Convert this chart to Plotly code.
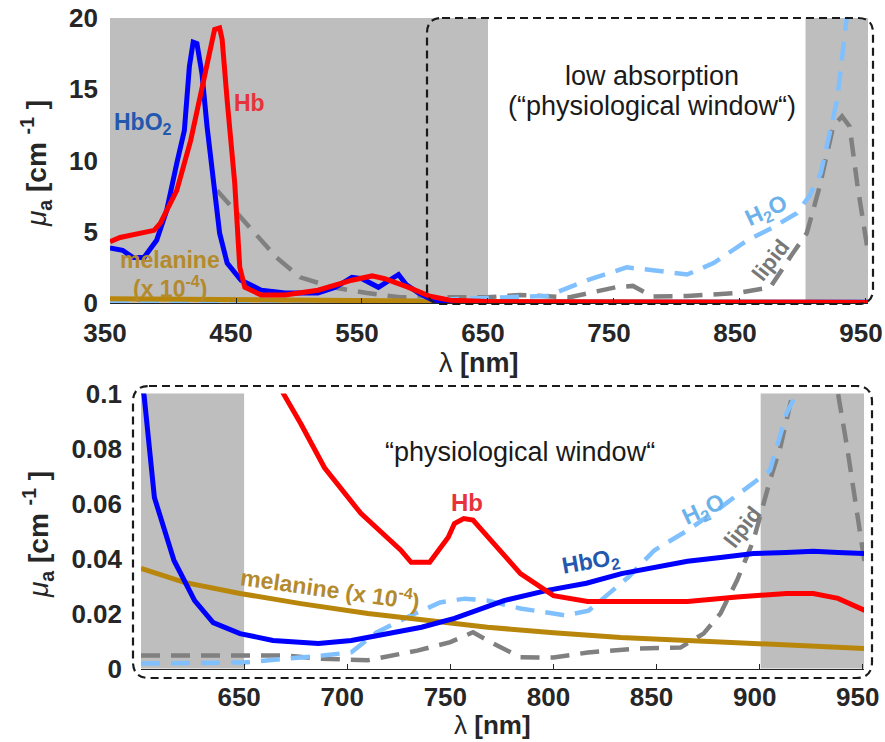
import plotly.graph_objects as go

# ---------------- top panel data (350-950 nm) ----------------
wl_hbo2_top = [350, 360, 368, 377, 387, 395, 403, 409, 413, 416, 419, 423, 427, 433, 437, 443, 454, 470,
               489, 515, 529, 542, 550, 563, 571, 579, 585, 595, 606, 620, 650, 700, 750, 800, 850, 900, 955]
hbo2_top = [3.86, 3.7, 3.2, 3.2, 4.4, 6.5, 9.8, 12.1, 16.6, 18.3, 18.2, 16.1, 12.4, 8.1, 4.9, 2.8, 1.6, 0.9,
            0.7, 0.7, 1.1, 1.8, 1.7, 1.1, 1.6, 2.0, 1.3, 0.7, 0.2, 0.1, 0.05, 0.03, 0.03, 0.04, 0.05, 0.05, 0.05]

wl_hb_top = [350, 358, 385, 390, 403, 414, 425, 433, 437, 439, 443, 449, 453, 457, 470, 489, 515, 542,
             558, 568, 587, 603, 611, 620, 650, 700, 750, 800, 850, 900, 955]
hb_top = [4.3, 4.6, 5.1, 5.6, 7.9, 11.4, 15.9, 19.2, 19.3, 18.5, 14.2, 8.4, 2.5, 1.1, 0.56, 0.56, 0.9, 1.6,
          1.9, 1.7, 1.1, 0.5, 0.35, 0.2, 0.1, 0.07, 0.07, 0.05, 0.05, 0.05, 0.04]

wl_lipid_top = [435, 463, 482, 501, 527, 554, 580, 598, 625, 649, 675, 715, 751, 765, 781, 808, 848, 874,
                892, 903, 913, 924, 931, 937, 943, 951]
lipid_top = [7.9, 5.1, 3.2, 1.8, 1.1, 0.7, 0.4, 0.4, 0.4, 0.4, 0.56, 0.4, 1.1, 1.2, 0.45, 0.5, 0.7, 1.1,
             3.5, 4.9, 8.1, 12.4, 13.1, 12.4, 8.4, 3.9]

wl_h2o_top = [350, 400, 450, 500, 550, 600, 650, 662, 697, 729, 760, 781, 808, 829, 856, 876, 895, 905,
              914, 927, 932, 935, 940]
h2o_top = [0.02, 0.02, 0.03, 0.03, 0.04, 0.2, 0.35, 0.4, 0.5, 1.6, 2.5, 2.3, 2.0, 2.8, 4.4, 5.3, 6.3, 7.5,
           9.1, 14.2, 17.8, 20.5, 24.0]

wl_mel_top = [350, 450, 550, 650, 750, 850, 955]
mel_top = [0.3, 0.22, 0.15, 0.1, 0.07, 0.05, 0.04]

# ---------------- bottom panel data (600-950 nm) ----------------
wl_hbo2_bot = [600, 601.5, 606.5, 611, 616, 621, 626, 635, 648, 664, 686, 702, 726, 736, 752, 776, 797,
               816, 833, 849, 865, 881, 897, 913, 926, 938, 951]
hbo2_bot = [0.104, 0.0993, 0.0622, 0.0513, 0.0393, 0.032, 0.0247, 0.0167, 0.0127, 0.0102, 0.0091, 0.0102,
            0.0138, 0.015, 0.0182, 0.0247, 0.0284, 0.031, 0.0345, 0.0367, 0.039, 0.0404, 0.0418, 0.0422,
            0.0426, 0.0422, 0.0418]

wl_hb_bot = [655, 669, 677.5, 689, 706.6, 726, 731, 740, 749, 752, 756.5, 761, 771, 784, 800, 816.6, 849,
             865, 889, 913, 926, 938, 951]
hb_bot = [0.125, 0.1, 0.089, 0.073, 0.0564, 0.043, 0.0386, 0.0386, 0.0477, 0.0527, 0.0545, 0.054, 0.0455,
          0.0345, 0.0265, 0.0244, 0.0244, 0.0244, 0.026, 0.0273, 0.0273, 0.0255, 0.0211]

wl_h2o_bot = [600, 650, 688, 702, 714, 730, 745, 757, 768, 784, 800, 806, 817, 836, 849, 865, 881, 897,
              905, 913, 918, 930, 951]
h2o_bot = [0.0018, 0.0022, 0.0047, 0.0059, 0.013, 0.019, 0.024, 0.0254, 0.0247, 0.0218, 0.02, 0.0193,
           0.021, 0.033, 0.043, 0.0502, 0.0585, 0.0673, 0.072, 0.0927, 0.1, 0.13, 0.2]

wl_lipid_bot = [600, 671, 686, 710, 734, 750, 761, 771, 784, 800, 816.6, 841, 861.6, 872.8, 881, 889, 897,
                905, 910, 916, 930, 938, 942.5, 947, 951]
lipid_bot = [0.0047, 0.0047, 0.0036, 0.003, 0.0065, 0.0096, 0.0132, 0.009, 0.0041, 0.004, 0.0058, 0.0073,
             0.0076, 0.0127, 0.02, 0.032, 0.0466, 0.0684, 0.0804, 0.1, 0.16, 0.1, 0.08, 0.0564, 0.038]

wl_mel_bot = [600, 621, 648, 677.5, 710, 750, 768, 800, 832.6, 865, 897, 929, 951]
mel_bot = [0.0364, 0.0313, 0.0273, 0.0236, 0.02, 0.0167, 0.015, 0.013, 0.0113, 0.0102, 0.0091, 0.0076, 0.0073]

top_xticks = [350, 450, 550, 650, 750, 850, 950]
top_yticks = [0, 5, 10, 15, 20]
bot_xticks = [650, 700, 750, 800, 850, 900, 950]
bot_yticks = [0, 0.02, 0.04, 0.06, 0.08, 0.1]
bot_yticklabels = ["0", "0.02", "0.04", "0.06", "0.08", "0.1"]

# ---------------- styling ----------------
W, H = 885, 742
FONT = "Liberation Sans, Arial, Helvetica, sans-serif"
C_HBO2, C_HB, C_MEL, C_H2O, C_LIP = "#0000ff", "#ff0000", "#b8860b", "#80c0ff", "#808080"
T_HBO2, T_HB, T_MEL, T_H2O, T_LIP = "#2358ae", "#e8323a", "#b38a2e", "#6cb2ea", "#777777"
GRAY = "#bebebe"
TXT = "#262626"


def px_x(p):
    return p / W


def px_y(p):
    return 1 - p / H


fig = go.Figure()


def add(x, y, color, xa, ya, dash=None, width=5):
    line = dict(color=color, width=width)
    if dash:
        line["dash"] = dash
    fig.add_trace(go.Scatter(x=x, y=y, mode="lines", line=line, xaxis=xa, yaxis=ya,
                             hoverinfo="skip", showlegend=False))


DASH = "19px,11px"
for xa, ya, d in [("x", "y", dict(lip=(wl_lipid_top, lipid_top), h2o=(wl_h2o_top, h2o_top),
                                   mel=(wl_mel_top, mel_top), hbo2=(wl_hbo2_top, hbo2_top),
                                   hb=(wl_hb_top, hb_top))),
                  ("x2", "y2", dict(lip=(wl_lipid_bot, lipid_bot), h2o=(wl_h2o_bot, h2o_bot),
                                    mel=(wl_mel_bot, mel_bot), hbo2=(wl_hbo2_bot, hbo2_bot),
                                    hb=(wl_hb_bot, hb_bot)))]:
    add(*d["lip"], C_LIP, xa, ya, dash=DASH, width=4.5)
    add(*d["h2o"], C_H2O, xa, ya, dash=DASH, width=4.5)
    add(*d["mel"], C_MEL, xa, ya)
    add(*d["hbo2"], C_HBO2, xa, ya)
    add(*d["hb"], C_HB, xa, ya)

tickfont = dict(family=FONT, size=26, color=TXT, weight="bold")
common_x = dict(showgrid=False, zeroline=False, ticks="inside", ticklen=5, tickwidth=1, tickcolor=TXT,
                showline=True, linecolor=TXT, linewidth=1, tickfont=tickfont, automargin=False,
                ticklabelshift=-5, mirror=False)
common_y = dict(showgrid=False, zeroline=False, ticks="", showline=False, tickfont=tickfont,
                automargin=False)

fig.update_layout(
    width=W, height=H, margin=dict(l=0, r=0, t=0, b=0),
    paper_bgcolor="white", plot_bgcolor="white",
    xaxis=dict(domain=[px_x(110), px_x(868)], range=[350, 951.6], anchor="y",
               tickvals=top_xticks, ticklabelstandoff=7, **common_x),
    yaxis=dict(domain=[px_y(303), px_y(18)], range=[0, 20], anchor="x",
               tickvals=top_yticks, ticklabelstandoff=11, **common_y),
    xaxis2=dict(domain=[px_x(141), px_x(864)], range=[600, 950.6], anchor="y2",
                tickvals=bot_xticks, ticklabelstandoff=5, **common_x),
    yaxis2=dict(domain=[px_y(668.5), px_y(393.5)], range=[0, 0.1], anchor="x2",
                tickvals=bot_yticks, ticktext=bot_yticklabels, ticklabelstandoff=18, **common_y),
)

shapes = []
# gray absorption regions
for xr, yr, x0, x1 in [("x", "y domain", 350, 650), ("x", "y domain", 902, 951.6),
                        ("x2", "y2 domain", 600, 650), ("x2", "y2 domain", 900.5, 950.6)]:
    shapes.append(dict(type="rect", xref=xr, yref=yr, x0=x0, x1=x1, y0=0, y1=1,
                       fillcolor=GRAY, line=dict(width=0), layer="below"))


def rounded(x0, y0, x1, y1, r):
    pts = lambda x, y: f"{px_x(x):.5f},{px_y(y):.5f}"
    return (f"M {pts(x0 + r, y0)} L {pts(x1 - r, y0)} Q {pts(x1, y0)} {pts(x1, y0 + r)} "
            f"L {pts(x1, y1 - r)} Q {pts(x1, y1)} {pts(x1 - r, y1)} "
            f"L {pts(x0 + r, y1)} Q {pts(x0, y1)} {pts(x0, y1 - r)} "
            f"L {pts(x0, y0 + r)} Q {pts(x0, y0)} {pts(x0 + r, y0)} Z")


for box in [(427, 18, 873, 304, 15), (133, 386, 872, 678, 16)]:
    shapes.append(dict(type="path", xref="paper", yref="paper", path=rounded(*box),
                       line=dict(color="#1a1a1a", width=2.2, dash="8px,5px"), layer="above"))
fig.update_layout(shapes=shapes)

ann = []


def label(text, x, y, xr, yr, color, size=23, angle=0):
    ann.append(dict(text=text, x=x, y=y, xref=xr, yref=yr, showarrow=False, textangle=angle,
                    font=dict(family=FONT, size=size, color=color), xanchor="center", yanchor="middle"))


NB = "\u00a0"
# top panel labels
label("<b>HbO<sub>2</sub></b>", 376, 12.6, "x", "y", T_HBO2)
label("<b>Hb</b>", 461, 14.0, "x", "y", T_HB)
label("<b>melanine</b>", 397.6, 3.0, "x", "y", T_MEL, size=23)
label("<b>(x 10<sup>-4</sup>)</b>", 397.6, 1.1, "x", "y", T_MEL, size=23)
label("low absorption", 780, 15.9, "x", "y", "#1a1a1a", size=27)
label("(“physiological window“)", 780, 13.8, "x", "y", "#1a1a1a", size=27)
label("<b>H<sub>2</sub>O</b>", 871, 6.4, "x", "y", T_H2O, size=23, angle=-25)
label("<b>lipid</b>", 874, 3.0, "x", "y", T_LIP, size=22, angle=-52)

# bottom panel labels
label("“physiological window“", 784, 0.0789, "x2", "y2", "#1a1a1a", size=27)
label("<b>Hb</b>", 758, 0.0604, "x2", "y2", T_HB, size=24)
label("<b>HbO<sub>2</sub></b>", 818, 0.0385, "x2", "y2", T_HBO2, angle=-10)
label("<b>H<sub>2</sub>O</b>", 872.6, 0.0575, "x2", "y2", T_H2O, size=23, angle=-25)
label("<b>lipid</b>", 891.5, 0.0514, "x2", "y2", T_LIP, size=22, angle=-52)
label("<b>melanine (x 10<sup>-4</sup>)</b>", 691.7, 0.0292, "x2", "y2", T_MEL, size=23, angle=8)

# axis titles
ytitle = f"<i>μ</i><sub><b>a</b></sub>{NB}<b>[cm{NB}<sup>-1</sup>{NB}]</b>"
xtitle = f"λ{NB}<b>[nm]</b>"
label(ytitle, px_x(36), px_y(164), "paper", "paper", TXT, size=28, angle=-90)
label(ytitle, px_x(38), px_y(535), "paper", "paper", TXT, size=28, angle=-90)
label(xtitle, px_x(479), px_y(363), "paper", "paper", TXT, size=27)
label(xtitle, px_x(493), px_y(725), "paper", "paper", TXT, size=26)

fig.update_layout(annotations=ann)
fig.write_html("out.html")
